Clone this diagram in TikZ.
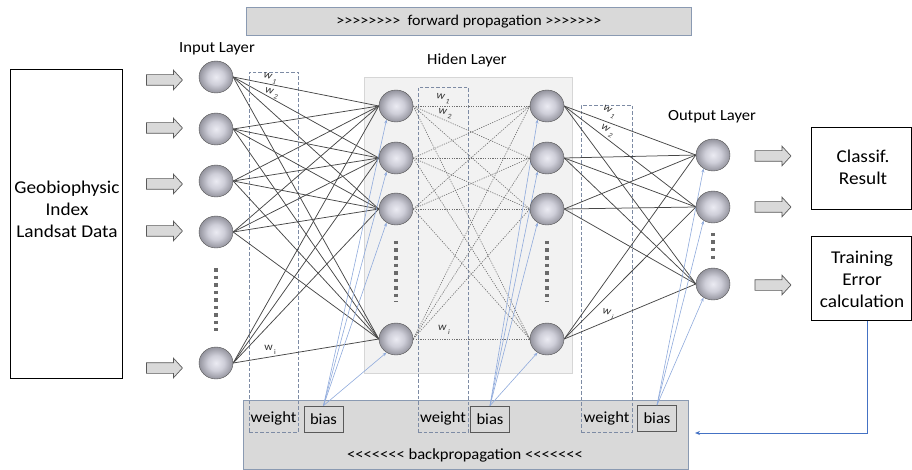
\documentclass[tikz,border=0pt]{standalone}
\usepackage{fontspec}
\setmainfont{Carlito}[FakeStretch=1.07, Ligatures=TeXOff]
\usetikzlibrary{shapes.geometric,shapes.arrows,arrows.meta}

\definecolor{panelgray}{HTML}{D9D9D9}
\definecolor{paneledge}{HTML}{8A9AB2}
\definecolor{dashedge}{HTML}{7D8BA4}
\definecolor{hidfill}{HTML}{F2F2F2}
\definecolor{hidedge}{HTML}{D6D6D6}
\definecolor{wireclr}{HTML}{474747}
\definecolor{dotwire}{HTML}{6E6E6E}
\definecolor{biasclr}{HTML}{8FAADC}
\definecolor{backclr}{HTML}{4472C4}
\definecolor{arrowedge}{HTML}{595959}
\definecolor{ellipsisclr}{HTML}{6A6A6A}

% silver neuron ball
\pgfdeclareradialshading{sphere}{\pgfpoint{0bp}{0bp}}{%
  rgb(0bp)=(0.92,0.92,0.95);
  rgb(12bp)=(0.81,0.81,0.85);
  rgb(25bp)=(0.58,0.58,0.62);
  rgb(50bp)=(0.58,0.58,0.62)}

\newcommand\wlab[1]{\textit{w}\kern1.3pt\raisebox{-0.35em}{\fontsize{7}{7}\selectfont\textit{#1}}}

\begin{document}
\begin{tikzpicture}[x=1pt,y=-1pt,
  neuron/.style={ellipse, minimum width=34, minimum height=32, inner sep=0,
    draw=gray!65!black, line width=0.4pt, shading=sphere},
  anchorball/.style={ellipse, minimum width=34, minimum height=32, inner sep=0},
  panel/.style={draw=paneledge, fill=panelgray, line width=0.8pt, inner sep=0,
    anchor=north west},
  wbox/.style={draw=dashedge, line width=0.9pt, dash pattern=on 3.5pt off 2pt,
    inner sep=0, anchor=north west},
  biasbox/.style={draw=arrowedge, line width=0.8pt, minimum width=39,
    minimum height=26, inner sep=0, font=\fontsize{15.5}{18}\selectfont},
  outbox/.style={draw=black, line width=1pt, inner sep=0, fill=white},
  blockarrow/.style={single arrow, draw=arrowedge, fill=panelgray,
    line width=0.7pt, minimum height=36, inner xsep=0, inner ysep=5,
    single arrow head extend=4.5, single arrow tip angle=95},
  lbl/.style={font=\fontsize{15.5}{18}\selectfont, inner sep=0},
  boxtext/.style={font=\fontsize{18}{22}\selectfont, align=center, inner sep=0},
  wtext/.style={font=\fontsize{11}{12}\selectfont, text=black!80, inner sep=0},
  wire/.style={draw=wireclr, line width=0.75pt},
  dwire/.style={draw=dotwire, line width=0.6pt, dash pattern=on 1.2pt off 1.2pt},
  biasline/.style={draw=biasclr, line width=0.6pt, -{Stealth[length=4pt,width=3pt]}},
  feedback/.style={draw=backclr, line width=1pt, -{Stealth[length=5pt,width=4pt]}},
  ellipsis/.style={draw=ellipsisclr, line width=3.5pt, dash pattern=on 3.5pt off 4pt},
]
\useasboundingbox (0,0) rectangle (912,470);

% ---- panels ----
\node[panel, minimum width=445, minimum height=28,
  font=\fontsize{15}{18}\selectfont] (fwd) at (246,7)
  {>>>>>>>>\ \ forward propagation >>>>>>>};
\node[panel, minimum width=445, minimum height=69] (bwd) at (243,400) {};
\node[lbl] (bwdtext) at (465,455) {<<<<<<< backpropagation <<<<<<<};

\node[draw=hidedge, fill=hidfill, line width=1.2pt, inner sep=0,
  minimum width=208, minimum height=296, anchor=north west] (hidpanel) at (364,77) {};

% ---- weight groups ----
\node[wbox, minimum width=49, minimum height=360] (wg1) at (249,72) {};
\node[wbox, minimum width=50, minimum height=345] (wg2) at (418,87) {};
\node[wbox, minimum width=51, minimum height=327] (wg3) at (581,105) {};
\node[lbl] (wt1) at (273.5,418) {weight};
\node[lbl] (wt2) at (443,418) {weight};
\node[lbl] (wt3) at (606.5,418) {weight};

\node[biasbox] (b1) at (323.5,419) {bias};
\node[biasbox] (b2) at (490,419) {bias};
\node[biasbox] (b3) at (657,418.5) {bias};

% ---- layer titles ----
\node[lbl] (tin) at (217,49) {Input Layer};
\node[lbl] (thid) at (467,60) {Hiden Layer};
\node[lbl] (tout) at (712,117) {Output Layer};

% ---- neuron positions ----
\foreach \k/\yy in {1/77,2/129,3/181,4/232,5/363}
  \coordinate (pin\k) at (216,\yy);
\foreach \k/\yy in {1/106,2/158,3/209,4/339} {
  \coordinate (ph\k) at (396,\yy);
  \coordinate (pg\k) at (547,\yy);
}
\foreach \k/\yy in {1/155,2/207,3/284}
  \coordinate (po\k) at (713,\yy);

% nodes are declared first (for anchors), then drawn on top of the wires
\path \foreach \k in {1,...,5} { node[anchorball] (in\k) at (pin\k) {} }
      \foreach \k in {1,...,4} { node[anchorball] (h\k) at (ph\k) {}
                                 node[anchorball] (g\k) at (pg\k) {} }
      \foreach \k in {1,...,3} { node[anchorball] (o\k) at (po\k) {} };

% ---- connections ----
\foreach \i in {1,...,5}
  \foreach \j in {1,...,4}
    \draw[wire] (in\i.east) -- (h\j.west);
\foreach \i in {1,...,4}
  \foreach \j in {1,...,4}
    \draw[dwire] (h\i.east) -- (g\j.west);
\foreach \i in {1,...,4}
  \foreach \j in {1,...,3}
    \draw[wire] (g\i.east) -- (o\j.west);

% ---- bias links ----
\foreach \j in {1,...,4} {
  \draw[biasline] (b1.north) -- (h\j.235);
  \draw[biasline] (b2.north) -- (g\j.235);
}
\foreach \j in {1,...,3}
  \draw[biasline] (b3.north) -- (o\j.235);

% ---- neuron balls ----
\foreach \k in {1,...,5} \node[neuron] at (pin\k) {};
\foreach \k in {1,...,4} { \node[neuron] at (ph\k) {}; \node[neuron] at (pg\k) {}; }
\foreach \k in {1,...,3} \node[neuron] at (po\k) {};

% ---- vertical ellipses ----
\draw[ellipsis] (216,268) -- (216,331);
\draw[ellipsis] (396,241) -- (396,302);
\draw[ellipsis] (547,241) -- (547,302);
\draw[ellipsis] (713,233) -- (713,262);

% ---- weight symbols ----
\node[wtext, rotate=-14] (win1) at (270,78) {\wlab{1}};
\node[wtext, rotate=-14] (win2) at (271.5,93) {\wlab{2}};
\node[wtext] (wini) at (270,350) {w\kern1.3pt\raisebox{-0.35em}{\fontsize{7}{7}\selectfont i}};
\node[wtext, rotate=-8] (wh1) at (443,99) {\wlab{1}};
\node[wtext, rotate=-8] (wh2) at (445,114) {\wlab{2}};
\node[wtext] (whi) at (444,330) {\wlab{i}};
\node[wtext, rotate=-28] (wo1) at (609,112) {\wlab{1}};
\node[wtext, rotate=-28] (wo2) at (607,131) {\wlab{2}};
\node[wtext, rotate=-12] (woi) at (608,314) {\wlab{i}};

% ---- data source ----
\node[outbox, minimum width=112, minimum height=308] (src) at (66,224) {};
\node[boxtext] (srctext) at (67,209) {Geobiophysic\\Index\\Landsat Data};

\foreach \k/\yy in {1/80,2/128,3/184,4/231,5/368}
  \node[blockarrow] (ia\k) at (162,\yy) {};

% ---- outputs ----
\foreach \k/\yy in {1/156,2/207,3/285}
  \node[blockarrow] (oa\k) at (770.5,\yy) {};

\node[outbox, minimum width=100, minimum height=82] (cls) at (861,169) {};
\node[boxtext] (clstext) at (863,167.5) {Classif.\\Result};
\node[outbox, minimum width=100, minimum height=83] (train) at (861,278.5) {};
\node[boxtext] (traintext) at (862,279) {Training\\Error\\calculation};

% ---- error feedback ----
\coordinate (fbend) at (695,433);
\draw[feedback] ([xshift=6pt]train.south) |- (fbend);
\end{tikzpicture}
\end{document}
